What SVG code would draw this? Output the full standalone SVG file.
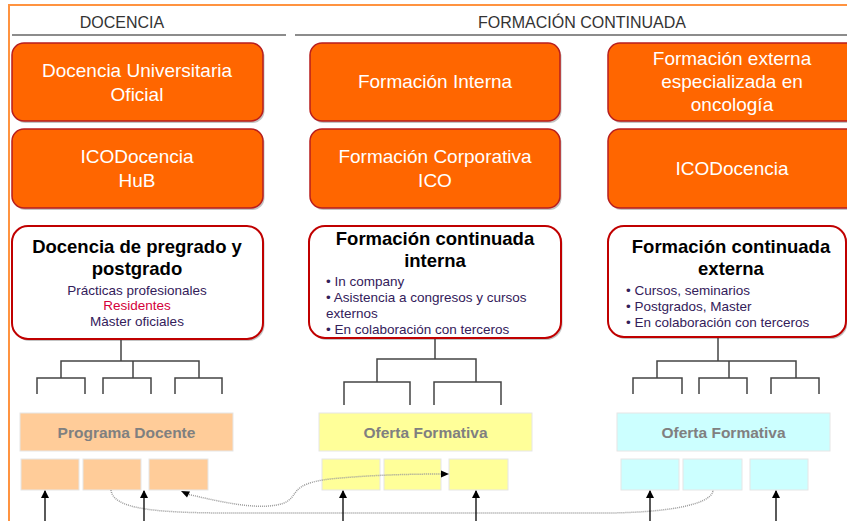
<svg xmlns="http://www.w3.org/2000/svg" width="847" height="521" viewBox="0 0 847 521">
<style>
text{font-family:"Liberation Sans",Arial,sans-serif}
.hdr{font-size:16px;fill:#333;text-anchor:middle}
.ob{fill:#FF6600;stroke:#B81E1E;stroke-width:1.5}
.sh{fill:#7a7a7a;opacity:.45}
.ot{font-size:19px;fill:#fff;text-anchor:middle}
.wb{fill:#fff;stroke:#C00000;stroke-width:2}
.tt{font-size:18.5px;font-weight:bold;fill:#000;text-anchor:middle}
.st{font-size:13.5px;fill:#33205a}
.tree{fill:none;stroke:#444;stroke-width:1.5}
.bt{font-size:15.5px;font-weight:bold;fill:#808080;text-anchor:middle}
.sb{stroke:#e6e6e6;stroke-width:1}
.dot{fill:none;stroke:#9a9a9a;stroke-width:1.5;stroke-dasharray:1 1}
.ar{stroke:#000;stroke-width:1.3}
</style>
<defs>
<marker id="ah" markerWidth="8" markerHeight="8" refX="7" refY="4" orient="auto" markerUnits="userSpaceOnUse"><path d="M0,0 L8,4 L0,8 z" fill="#000"/></marker>
</defs>
<rect width="847" height="521" fill="#fff"/>
<g id="frame">
<path d="M9,521 V5 H847" fill="none" stroke="#FF9340" stroke-width="2"/>
<line x1="12" y1="35" x2="286" y2="35" stroke="#666" stroke-width="1.5"/>
<line x1="295" y1="35" x2="847" y2="35" stroke="#666" stroke-width="1.5"/>
<text class="hdr" x="122" y="28">DOCENCIA</text>
<text class="hdr" x="582" y="28">FORMACIÓN CONTINUADA</text>
</g>
<g id="n-docencia-oficial">
<rect class="sh" x="13.5" y="45" width="251" height="78" rx="12"/>
<rect class="ob" x="12" y="43" width="251" height="78" rx="12"/>
<text class="ot" x="137" y="77">Docencia Universitaria</text>
<text class="ot" x="137" y="101">Oficial</text>
</g>
<g id="n-formacion-interna">
<rect class="sh" x="311.5" y="45" width="250" height="78" rx="12"/>
<rect class="ob" x="310" y="43" width="250" height="78" rx="12"/>
<text class="ot" x="435" y="88">Formación Interna</text>
</g>
<g id="n-formacion-externa">
<rect class="sh" x="609.5" y="45" width="250" height="78" rx="12"/>
<rect class="ob" x="608" y="43" width="250" height="78" rx="12"/>
<text class="ot" x="732" y="65">Formación externa</text>
<text class="ot" x="732" y="88">especializada en</text>
<text class="ot" x="732" y="111">oncología</text>
</g>
<g id="n-icodocencia-hub">
<rect class="sh" x="13.5" y="131" width="251" height="79" rx="12"/>
<rect class="ob" x="12" y="129" width="251" height="79" rx="12"/>
<text class="ot" x="137" y="163">ICODocencia</text>
<text class="ot" x="137" y="187">HuB</text>
</g>
<g id="n-formacion-corporativa">
<rect class="sh" x="311.5" y="131" width="250" height="79" rx="12"/>
<rect class="ob" x="310" y="129" width="250" height="79" rx="12"/>
<text class="ot" x="435" y="163">Formación Corporativa</text>
<text class="ot" x="435" y="187">ICO</text>
</g>
<g id="n-icodocencia">
<rect class="sh" x="609.5" y="131" width="250" height="79" rx="12"/>
<rect class="ob" x="608" y="129" width="250" height="79" rx="12"/>
<text class="ot" x="732" y="175">ICODocencia</text>
</g>
<g id="n-pregrado">
<rect class="sh" x="13.5" y="228" width="251" height="113" rx="16"/>
<rect class="wb" x="12" y="226" width="251" height="113" rx="16"/>
<text class="tt" x="137" y="253">Docencia de pregrado y</text>
<text class="tt" x="137" y="275">postgrado</text>
<text class="st" x="137" y="295" text-anchor="middle">Prácticas profesionales</text>
<text class="st" x="137" y="310" text-anchor="middle" style="fill:#D4003A">Residentes</text>
<text class="st" x="137" y="326" text-anchor="middle">Màster oficiales</text>
</g>
<g id="n-fc-interna">
<rect class="sh" x="310.5" y="228" width="252" height="112" rx="16"/>
<rect class="wb" x="309" y="226" width="252" height="112" rx="16"/>
<text class="tt" x="435" y="245">Formación continuada</text>
<text class="tt" x="435" y="267">interna</text>
<text class="st" x="326" y="286">• In company</text>
<text class="st" x="326" y="302">• Asistencia a congresos y cursos</text>
<text class="st" x="326" y="318">externos</text>
<text class="st" x="326" y="334">• En colaboración con terceros</text>
</g>
<g id="n-fc-externa">
<rect class="sh" x="609.5" y="228" width="238" height="111" rx="16"/>
<rect class="wb" x="608" y="226" width="238" height="111" rx="16"/>
<text class="tt" x="731" y="253">Formación continuada</text>
<text class="tt" x="731" y="275">externa</text>
<text class="st" x="626" y="295">• Cursos, seminarios</text>
<text class="st" x="626" y="311">• Postgrados, Master</text>
<text class="st" x="626" y="327">• En colaboración con terceros</text>
</g>
<g id="n-programa-docente">
<rect class="sb" x="20" y="413" width="213" height="38" fill="#FFCC99"/>
<text class="bt" x="126.5" y="438">Programa Docente</text>
<rect class="sb" x="21" y="459" width="58" height="31" fill="#FFCC99"/>
<rect class="sb" x="83" y="459" width="58" height="31" fill="#FFCC99"/>
<rect class="sb" x="149" y="459" width="59" height="31" fill="#FFCC99"/>
</g>
<g id="n-oferta-interna">
<rect class="sb" x="319" y="413" width="213" height="38" fill="#FFFF99"/>
<text class="bt" x="425.5" y="438">Oferta Formativa</text>
<rect class="sb" x="322" y="459" width="58" height="31" fill="#FFFF99"/>
<rect class="sb" x="384" y="459" width="57" height="31" fill="#FFFF99"/>
<rect class="sb" x="449" y="459" width="59" height="31" fill="#FFFF99"/>
</g>
<g id="n-oferta-externa">
<rect class="sb" x="617" y="413" width="213" height="38" fill="#CCFFFF"/>
<text class="bt" x="723.5" y="438">Oferta Formativa</text>
<rect class="sb" x="621" y="459" width="58" height="31" fill="#CCFFFF"/>
<rect class="sb" x="683" y="459" width="59" height="31" fill="#CCFFFF"/>
<rect class="sb" x="750" y="459" width="58" height="31" fill="#CCFFFF"/>
</g>
<g id="connectors">
<path class="tree" d="M121,340 V361 M61,378 V361 H199 V378 M133,361 V378 M37,394 V378 H85 V394 M103,394 V378 H151 V394 M175,394 V378 H222 V394"/>
<path class="tree" d="M435,339 V359 M377,382 V359 H476 V382 M344,405 V382 H410 V405 M434,405 V382 H501 V405"/>
<path class="tree" d="M718,338 V361 M657,378 V361 H796 V378 M729,361 V378 M633,394 V378 H682 V394 M699,394 V378 H747 V394 M771,394 V378 H819 V394"/>
<path class="dot" d="M111,490 C113,508 150,513 230,513 L610,513 C680,512 713,502 713,490"/>
<path class="dot" d="M187,494 C225,503 262,511 284,503 C300,496 288,484 330,479 C370,475 410,474 442,474"/>
<polygon points="449,474 441,470.5 441,477.5" fill="#000"/>
<polygon points="181,491 190,491.5 187,497.5" fill="#000"/>
<line class="ar" x1="45" y1="521" x2="45" y2="491" marker-end="url(#ah)"/>
<line class="ar" x1="144" y1="521" x2="144" y2="491" marker-end="url(#ah)"/>
<line class="ar" x1="343" y1="521" x2="343" y2="491" marker-end="url(#ah)"/>
<line class="ar" x1="476" y1="521" x2="476" y2="491" marker-end="url(#ah)"/>
<line class="ar" x1="650" y1="521" x2="650" y2="491" marker-end="url(#ah)"/>
<line class="ar" x1="776" y1="521" x2="776" y2="491" marker-end="url(#ah)"/>
</g>
</svg>
